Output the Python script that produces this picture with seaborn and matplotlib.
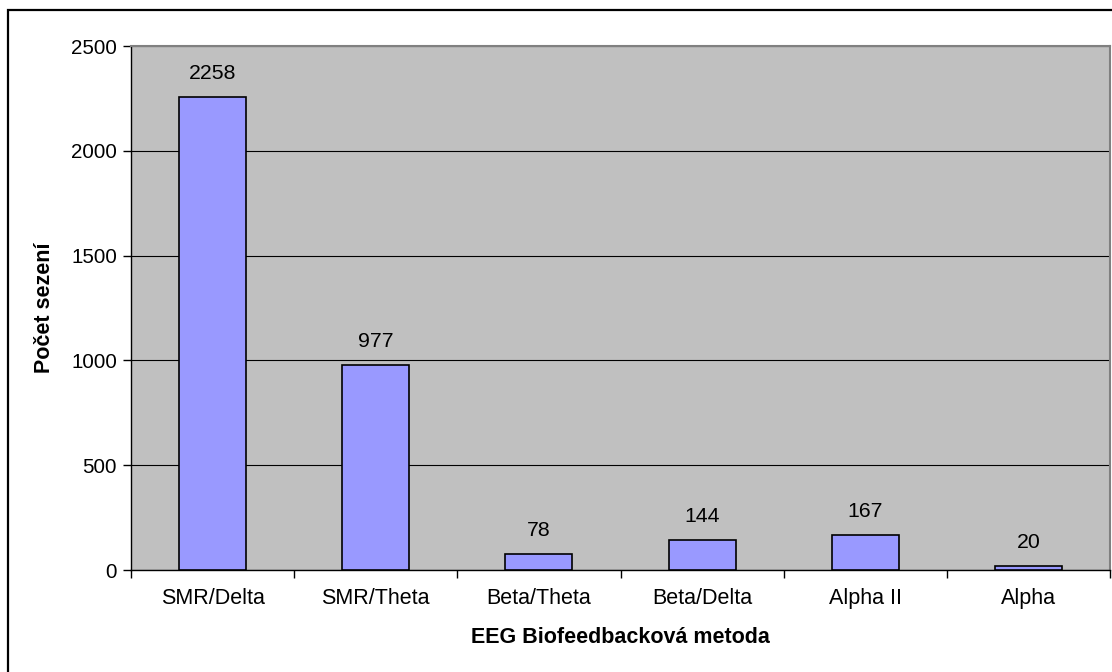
import matplotlib
matplotlib.use("Agg")
import matplotlib.pyplot as plt
from matplotlib.patches import Rectangle
import seaborn as sns

# Session counts per EEG biofeedback method
methods = ["SMR/Delta", "SMR/Theta", "Beta/Theta", "Beta/Delta", "Alpha II", "Alpha"]
sessions = [2258, 977, 78, 144, 167, 20]
y_ticks = [0, 500, 1000, 1500, 2000, 2500]

sns.set_style("white")
plt.rcParams["font.family"] = ["Liberation Sans", "DejaVu Sans"]
plt.rcParams["text.color"] = "black"
plt.rcParams["axes.labelcolor"] = "black"
plt.rcParams["xtick.color"] = "black"
plt.rcParams["ytick.color"] = "black"

W, H = 1112, 672
fig = plt.figure(figsize=(W / 100, H / 100), dpi=100)
fig.patch.set_facecolor("white")

# chart frame (left and top edges visible)
fig.add_artist(Rectangle((8 / W, -0.05), 1.2, 1 - 10 / H + 0.05,
                         transform=fig.transFigure, fill=False,
                         edgecolor="black", linewidth=1.6, zorder=0))

left, right, top, bottom = 131, 1110, 46, 570
ax = fig.add_axes([left / W, 1 - bottom / H, (right - left) / W, (bottom - top) / H])
ax.set_facecolor("#C0C0C0")

sns.barplot(x=methods, y=sessions, color="#9999FF", saturation=1, width=0.41,
            edgecolor="black", linewidth=1.2, ax=ax, zorder=3)

ax.set_xlim(-0.5, len(methods) - 0.5)
ax.set_ylim(0, 2500)
ax.set_yticks(y_ticks)
ax.set_yticklabels([str(t) for t in y_ticks], fontsize=14.8)
ax.yaxis.grid(True, color="black", linewidth=0.8, zorder=1)
ax.set_axisbelow(True)

# category labels centred, tick marks on category boundaries
ax.set_xticks(range(len(methods)))
ax.set_xticklabels(methods, fontsize=15.5)
ax.set_xticks([i - 0.5 for i in range(len(methods) + 1)], minor=True)
ax.tick_params(axis="x", which="major", bottom=True, length=0, pad=13)
ax.tick_params(axis="x", which="minor", bottom=True, length=6, width=1,
               color="black", direction="out")
ax.tick_params(axis="y", left=True, length=6, width=1, color="black",
               direction="out", pad=4)

for side in ("left", "bottom"):
    ax.spines[side].set_color("black")
    ax.spines[side].set_linewidth(1.0)
for side in ("top", "right"):
    ax.spines[side].set_visible(True)
    ax.spines[side].set_color("#808080")
    ax.spines[side].set_linewidth(1.5)

for i, v in enumerate(sessions):
    ax.annotate(str(v), (i, v), xytext=(0, 10), textcoords="offset points",
                ha="center", va="bottom", fontsize=15.3)

ax.set_xlabel("EEG Biofeedbacková metoda", fontsize=15.5, fontweight="bold", labelpad=13)
ax.set_ylabel("Počet sezení", fontsize=15.5, fontweight="bold", labelpad=12)

fig.savefig("out.png", dpi=100)
